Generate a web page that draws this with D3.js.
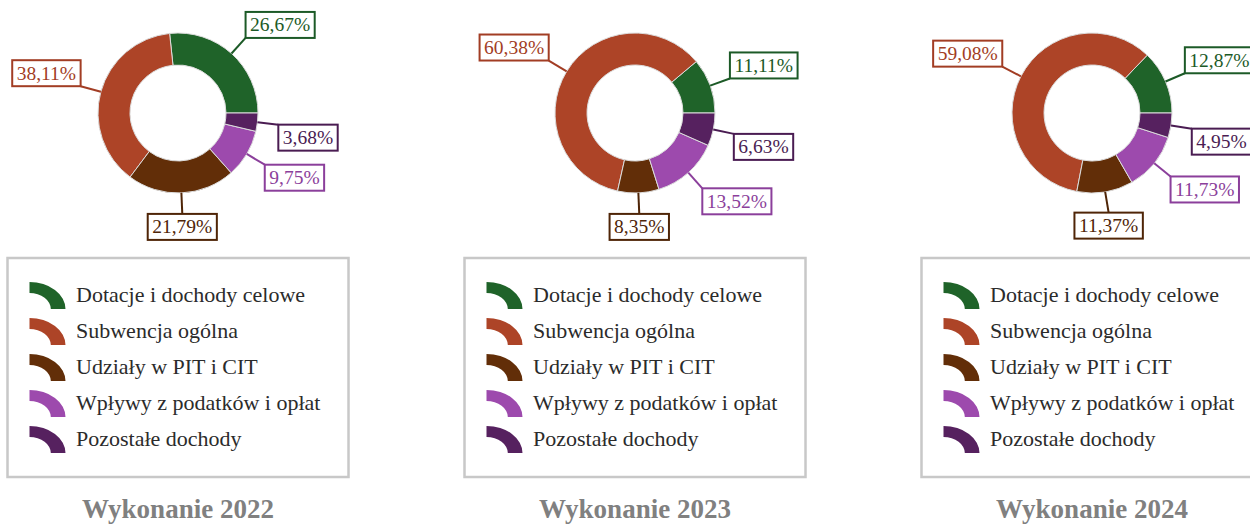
<!DOCTYPE html>
<html>
<head>
<meta charset="utf-8">
<script src="https://cdn.jsdelivr.net/npm/d3@7"></script>
<style>
	body { margin:0; background:#fff; }
	svg { display:block; font-family:"Liberation Serif", "Times New Roman", serif; }
</style>
</head>
<body>
<svg class="chart" width="1250" height="526"></svg>
<script>
(function() {

	//DATA
	var categories = ['Dotacje i dochody celowe', 'Subwencja ogólna', 'Udziały w PIT i CIT', 'Wpływy z podatków i opłat', 'Pozostałe dochody'];
	var years = ['2022', '2023', '2024'];
	var values2022 = [26.67, 38.11, 21.79, 9.75, 3.68];
	var values2023 = [11.11, 60.38, 8.35, 13.52, 6.63];
	var values2024 = [12.87, 59.08, 11.37, 11.73, 4.95];
	var titlePrefix = 'Wykonanie ';

	//VARS
	var sliceColors = ['#1f6329', '#ad4427', '#622e08', '#9d4aad', '#56215f'];
	var labelColors = ['#1c5a27', '#a23d24', '#4f2507', '#8b3f9b', '#4a1c52'];
	var panelWidth = 457;
	var firstCenter = 178;
	var cy = 113;
	var outerR = 80;
	var innerR = 48;
	var lineExt = 21;
	var boxH = 26;

	var svg = d3.select('.chart');

	var locale = d3.formatLocale({ decimal: ',', thousands: ' ', grouping: [3], currency: ['', ' zł'] });
	var fmt = locale.format('.2f');

	var color = d3.scaleOrdinal().domain(categories).range(sliceColors);
	var labelColor = d3.scaleOrdinal().domain(categories).range(labelColors);

	var pie = d3.pie()
		.sort(null)
		.value(function(d) { return d.value; })
		.startAngle(Math.PI / 2)
		.endAngle(Math.PI / 2 - 2 * Math.PI);

	var arc = d3.arc().innerRadius(innerR).outerRadius(outerR);

	function rows(values) {
		return categories.map(function(c, i) { return { key: c, value: values[i] }; });
	}

	function drawDonut(g, values) {
		var arcs = pie(rows(values));

		g.selectAll('.slice')
			.data(arcs)
			.enter()
			.append('path')
			.attr('class', 'slice')
			.attr('d', arc)
			.attr('fill', function(d) { return color(d.data.key); })
			.attr('stroke', '#dcdcdc')
			.attr('stroke-width', 1);

		var labels = g.selectAll('.label')
			.data(arcs)
			.enter()
			.append('g')
			.attr('class', 'label');

		labels.each(function(d) {
			var el = d3.select(this);
			var a = (d.startAngle + d.endAngle) / 2;
			var vx = Math.sin(a);
			var vy = -Math.cos(a);
			var c = labelColor(d.data.key);

			el.append('line')
				.attr('x1', vx * outerR)
				.attr('y1', vy * outerR)
				.attr('x2', vx * (outerR + lineExt))
				.attr('y2', vy * (outerR + lineExt))
				.attr('stroke', c)
				.attr('stroke-width', 2);

			var ex = vx * (outerR + lineExt);
			var ey = vy * (outerR + lineExt);

			var rect = el.append('rect')
				.attr('fill', '#fff')
				.attr('stroke', c)
				.attr('stroke-width', 2);

			var txt = el.append('text')
				.attr('fill', c)
				.style('font-size', '19.5px')
				.attr('text-anchor', 'middle')
				.text(fmt(d.data.value) + '%');

			var w = txt.node().getComputedTextLength() + 9;
			var left;
			if (Math.abs(vx) < 0.3) left = ex - w / 2;
			else if (vx > 0) left = ex;
			else left = ex - w;
			var top = vy > 0 ? ey : ey - boxH;

			rect.attr('x', left).attr('y', top).attr('width', w).attr('height', boxH);
			txt.attr('x', left + w / 2).attr('y', top + 19.5);
		});
	}

	function drawLegend(g) {
		var box = { x: -170.5, y: 258, w: 341, h: 219 };

		g.append('rect')
			.attr('x', box.x)
			.attr('y', box.y)
			.attr('width', box.w)
			.attr('height', box.h)
			.attr('fill', '#fff')
			.attr('stroke', '#c8c8c8')
			.attr('stroke-width', 2.5);

		var icon = d3.arc()
			.innerRadius(16)
			.outerRadius(27)
			.startAngle(0)
			.endAngle(Math.PI / 2);

		var item = g.selectAll('.legend-item')
			.data(categories)
			.enter()
			.append('g')
			.attr('class', 'legend-item')
			.attr('transform', function(d, i) { return 'translate(' + box.x + ',' + (294.5 + i * 36) + ')'; });

		item.append('path')
			.attr('d', icon)
			.attr('transform', 'translate(22,14.5) scale(1.333,1)')
			.attr('fill', function(d) { return color(d); });

		item.append('text')
			.attr('x', 68.5)
			.attr('y', 7)
			.attr('fill', '#2b2b2b')
			.style('font-size', '22px')
			.text(function(d) { return d; });
	}

	function drawTitle(g, year) {
		g.append('text')
			.attr('x', 0)
			.attr('y', 518)
			.attr('text-anchor', 'middle')
			.attr('fill', '#808080')
			.style('font-size', '27px')
			.style('font-weight', 'bold')
			.text(titlePrefix + year);
	}

	function init() {
		var allValues = [values2022, values2023, values2024];

		years.forEach(function(year, i) {
			var cx = firstCenter + i * panelWidth;
			var panel = svg.append('g')
				.attr('class', 'panel')
				.attr('transform', 'translate(' + cx + ',0)');

			drawLegend(panel);
			drawTitle(panel, year);

			var donut = panel.append('g')
				.attr('transform', 'translate(0,' + cy + ')');
			drawDonut(donut, allValues[i]);
		});
	}

	init()
})()
</script>
</body>
</html>
